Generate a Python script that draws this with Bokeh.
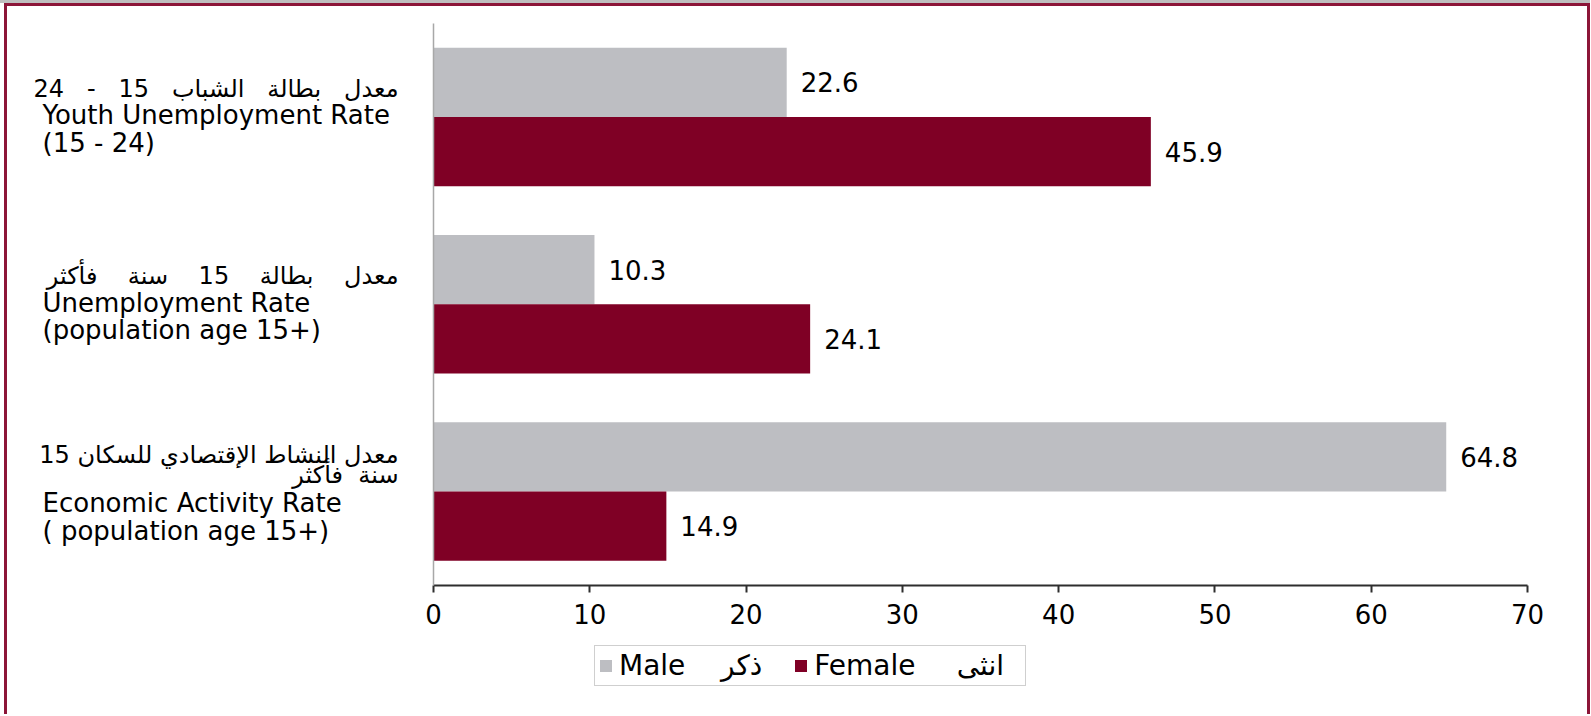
from bokeh.plotting import figure
from bokeh.models import Range1d, FixedTicker, Legend, LegendItem
from bokeh.core.properties import value
from bokeh.embed import file_html
from bokeh.resources import INLINE

# ---------------- data ----------------
categories = ["Youth Unemployment Rate", "Unemployment Rate", "Economic Activity Rate"]
male_values = [22.6, 10.3, 64.8]
female_values = [45.9, 24.1, 14.9]
x_ticks = [0, 10, 20, 30, 40, 50, 60, 70]
series_names = ["Male", "Female"]
series_names_ar = ["ذكر", "انثى"]

label_ar = [
    ["معدل بطالة الشباب 15 - 24"],
    ["معدل بطالة 15 سنة فأكثر"],
    ["معدل النشاط الإقتصادي للسكان 15", "سنة فأكثر"],
]
label_en = [
    ["Youth Unemployment Rate", "(15 - 24)"],
    ["Unemployment Rate", "(population age 15+)"],
    ["Economic Activity Rate", "( population age 15+)"],
]

# ---------------- style / layout ----------------
MALE = "#BDBEC2"
FEMALE = "#7F0025"
BORDER = "#8C1538"
FONT = "DejaVu Sans"
FS = "26px"
FS_AR = "24px"
NB = "\u00a0"
RLE, PDF = "\u202b", "\u202c"

ar_gaps = [[3], [4], [1, 2]]                      # nbsp per word gap
ar_offsets = [[-28], [-28.5], [-36, -16.5]]       # px below category centre
en_offsets = [[-2, 25.5], [-1.2, 26], [12, 40]]

W, H = 1590, 714
FRAME_L, FRAME_R, FRAME_T, FRAME_B = 433, 1527, 23, 584.5   # plot area in canvas px
x_max = x_ticks[-1]
n_cat = len(categories)
sx = (FRAME_R - FRAME_L) / x_max
sy = (FRAME_B - FRAME_T) / n_cat
x_range = Range1d(-FRAME_L / sx, x_max + (W - FRAME_R) / sx)
y_range = Range1d(n_cat + (H - FRAME_B) / sy, -FRAME_T / sy)

frame_css = ", ".join([
    "inset 0 3px 0 #bfbfbf",
    "inset 4px 0 0 #ffffff",
    f"inset 7px 0 0 {BORDER}",
    f"inset 0 6px 0 {BORDER}",
    f"inset -3px 0 0 {BORDER}",
])

p = figure(width=W, height=H, x_range=x_range, y_range=y_range,
           output_backend="svg", toolbar_location=None,
           min_border_left=0, min_border_right=0, min_border_top=0, min_border_bottom=0,
           styles={"box-shadow": frame_css})
p.outline_line_color = None
p.grid.visible = False
p.background_fill_alpha = 0
p.border_fill_alpha = 0

ys = [i + 0.5 for i in range(n_cat)]
bar_h = 0.37
male_y = [y - bar_h / 2 for y in ys]
female_y = [y + bar_h / 2 for y in ys]

rm = p.hbar(y=male_y, left=0, right=male_values, height=bar_h, fill_color=MALE, line_color=None)
rf = p.hbar(y=female_y, left=0, right=female_values, height=bar_h, fill_color=FEMALE, line_color=None)

for vals, yy in ((male_values, male_y), (female_values, female_y)):
    p.text(x=vals, y=yy, text=[f"{v:.1f}" for v in vals], x_offset=14,
           text_baseline="middle", text_align="left", text_font=value(FONT),
           text_font_size=FS, text_color="black")

# category labels (left of the y axis)
for i, y in enumerate(ys):
    for line, gap, off in zip(label_ar[i], ar_gaps[i], ar_offsets[i]):
        txt = RLE + line.replace(" ", NB * gap) + PDF
        p.text(x=[0], y=[y], x_offset=-35, y_offset=off, text=[txt], text_align="right",
               text_baseline="alphabetic", text_font=value(FONT),
               text_font_size=FS_AR, text_color="black")
    for line, off in zip(label_en[i], en_offsets[i]):
        p.text(x=[0], y=[y], x_offset=-391, y_offset=off, text=[line], text_align="left",
               text_baseline="alphabetic", text_font=value(FONT),
               text_font_size=FS, text_color="black")

# axes
p.xaxis.fixed_location = n_cat
p.xaxis.bounds = (0, x_max)
p.xaxis.ticker = FixedTicker(ticks=x_ticks)
p.xaxis.axis_line_color = "#2e2e2e"
p.xaxis.axis_line_width = 2
p.xaxis.major_tick_line_color = "#2e2e2e"
p.xaxis.major_tick_line_width = 2
p.xaxis.major_tick_out = 7
p.xaxis.major_tick_in = 0
p.xaxis.minor_tick_line_color = None
p.xaxis.major_label_text_font = FONT
p.xaxis.major_label_text_font_size = FS
p.xaxis.major_label_text_color = "black"
p.xaxis.major_label_standoff = 12

p.yaxis.fixed_location = 0
p.yaxis.bounds = (0, n_cat)
p.yaxis.ticker = FixedTicker(ticks=[])
p.yaxis.axis_line_color = "#a8a8a8"
p.yaxis.axis_line_width = 1.5
p.yaxis.major_tick_line_color = None
p.yaxis.minor_tick_line_color = None
p.yaxis.major_label_text_font_size = "0px"

legend = Legend(items=[LegendItem(label=series_names[0] + NB * 4 + series_names_ar[0], renderers=[rm]),
                       LegendItem(label=series_names[1] + NB * 4 + "\u2009" + series_names_ar[1] + NB * 2,
                                  renderers=[rf])],
                orientation="horizontal", location=(594, 28.5),
                label_text_font=FONT, label_text_font_size="28px", label_text_color="black",
                glyph_width=15, glyph_height=15, label_standoff=6, spacing=31,
                padding=3, border_line_color="#a0a0a0", border_line_width=1.5,
                background_fill_color="white", background_fill_alpha=1)
p.add_layout(legend, "center")

open("out.html", "w").write(file_html(p, INLINE))
